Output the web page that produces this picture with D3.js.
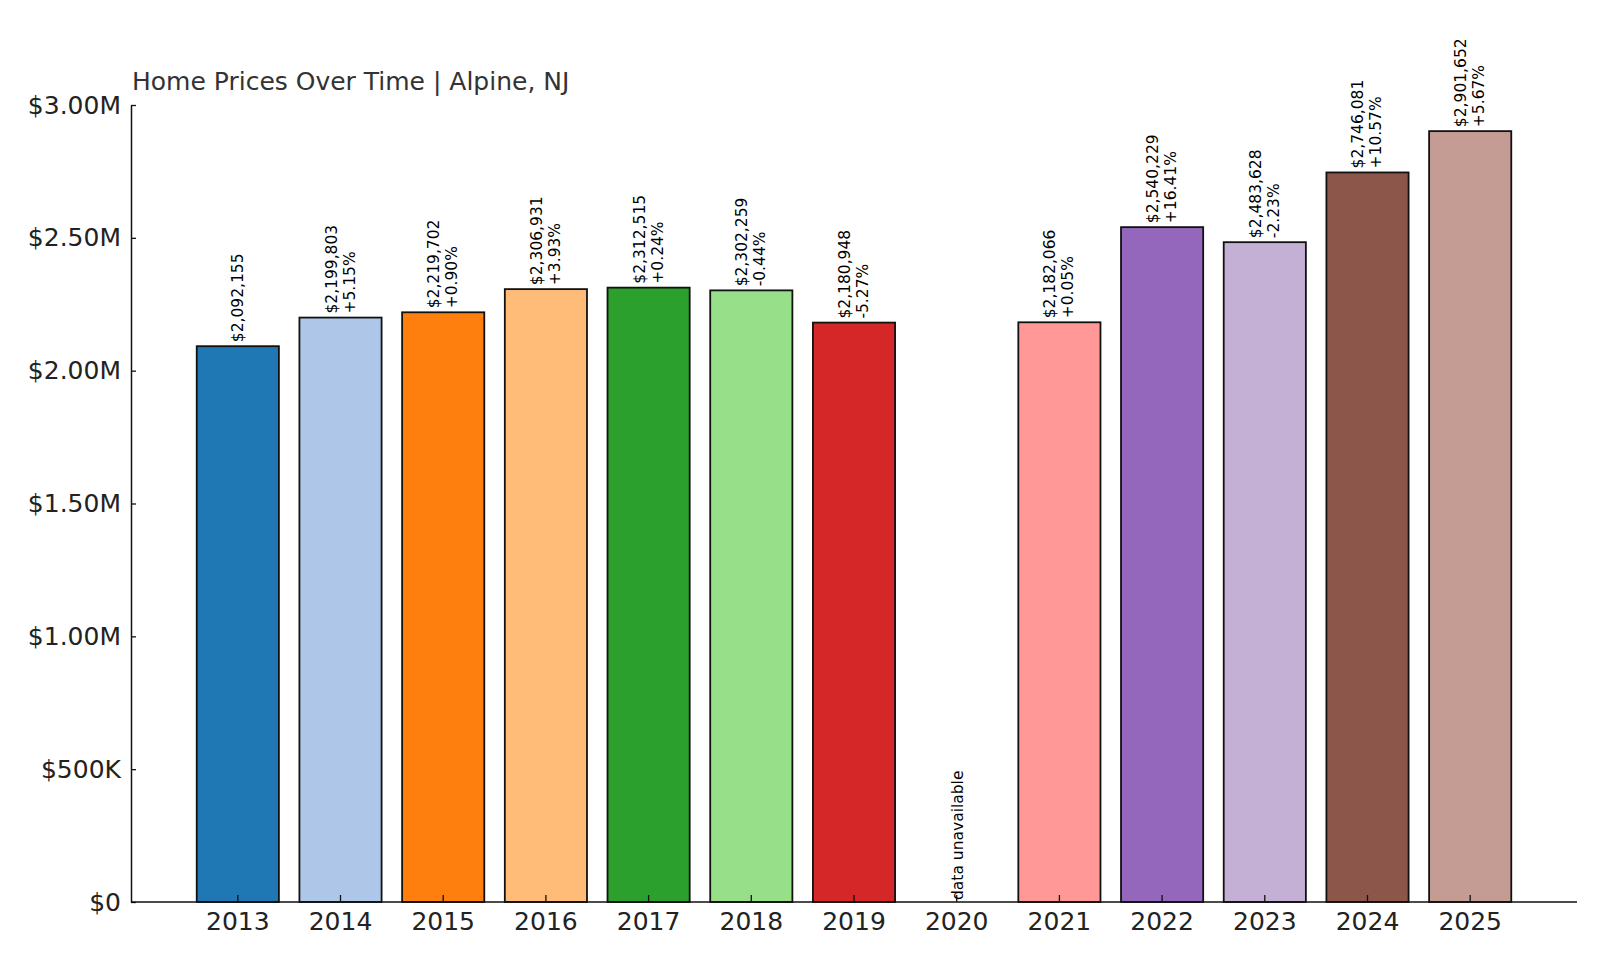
<!DOCTYPE html>
<html><head><meta charset="utf-8">
<script src="https://cdn.jsdelivr.net/npm/d3@7"></script>
<style>body{margin:0;background:#fff;font-family:"DejaVu Sans",sans-serif}</style>
</head><body><svg id="c" width="1600" height="960"></svg>
<script>
const years=["2013","2014","2015","2016","2017","2018","2019","2020","2021","2022","2023","2024","2025"];
const values=[2092155,2199803,2219702,2306931,2312515,2302259,2180948,null,2182066,2540229,2483628,2746081,2901652];
const changes=[null,"+5.15%","+0.90%","+3.93%","+0.24%","-0.44%","-5.27%",null,"+0.05%","+16.41%","-2.23%","+10.57%","+5.67%"];
const colors=["#1f77b4","#aec7e8","#ff7f0e","#ffbb78","#2ca02c","#98df8a","#d62728",null,"#ff9896","#9467bd","#c5b0d5","#8c564b","#c49c94"];
const yTicks=[0,500000,1000000,1500000,2000000,2500000,3000000];
const yTickLabels=["$0","$500K","$1.00M","$1.50M","$2.00M","$2.50M","$3.00M"];
const title="Home Prices Over Time | Alpine, NJ";

const svg=d3.select("#c");
const L=131,R=1577,T=105,B=902;
const x=d3.scaleBand().domain(years).range([L,R]).paddingInner(0.2).paddingOuter(0.64);
const y=d3.scaleLinear().domain([0,3000000]).range([B,T]);

svg.selectAll("rect.bar").data(years.map((d,i)=>({d,i})).filter(o=>values[o.i]!=null))
 .enter().append("rect").attr("x",o=>x(o.d)).attr("width",x.bandwidth())
 .attr("y",o=>y(values[o.i])).attr("height",o=>B-y(values[o.i]))
 .attr("fill",o=>colors[o.i]).attr("stroke","#111").attr("stroke-width",1.8);

const fmt=d3.format(",");
years.forEach((d,i)=>{
  const cx=x(d)+x.bandwidth()/2;
  if(values[i]==null){
    svg.append("text").attr("transform",`translate(${cx+6},${B-2}) rotate(-90)`)
      .attr("font-size",15.5).text("data unavailable");
    return;
  }
  const yt=y(values[i])-4;
  const g=svg.append("text").attr("transform",`translate(${cx},${yt}) rotate(-90)`).attr("font-size",15.5);
  if(changes[i]){
    g.append("tspan").attr("x",0).attr("y",-4).text("$"+fmt(values[i]));
    g.append("tspan").attr("x",0).attr("y",14).text(changes[i]);
  } else {
    g.append("tspan").attr("x",0).attr("y",5).text("$"+fmt(values[i]));
  }
});

const ya=svg.append("g").attr("transform",`translate(${L},0)`)
 .call(d3.axisLeft(y).tickValues(yTicks).tickFormat((d,i)=>yTickLabels[i]).tickSize(-5).tickPadding(10).tickSizeOuter(0));
ya.selectAll("text").attr("font-size",25).attr("font-family","DejaVu Sans").attr("fill","#222");
ya.selectAll(".tick line").attr("stroke","#111").attr("stroke-width",1.3);
ya.select(".domain").attr("stroke","#111").attr("stroke-width",1.5);
const xa=svg.append("g").attr("transform",`translate(0,${B})`)
 .call(d3.axisBottom(x).tickSize(-7).tickPadding(10).tickSizeOuter(0));
xa.selectAll("text").attr("font-size",25).attr("font-family","DejaVu Sans").attr("fill","#222");
xa.selectAll(".tick line").attr("stroke","#111").attr("stroke-width",1.3);
xa.select(".domain").attr("d",`M${L},0H${R}`).attr("stroke","#111").attr("stroke-width",1.5);

svg.append("text").attr("x",L+1).attr("y",90).attr("font-size",25).attr("fill","#333").text(title);
</script></body></html>
